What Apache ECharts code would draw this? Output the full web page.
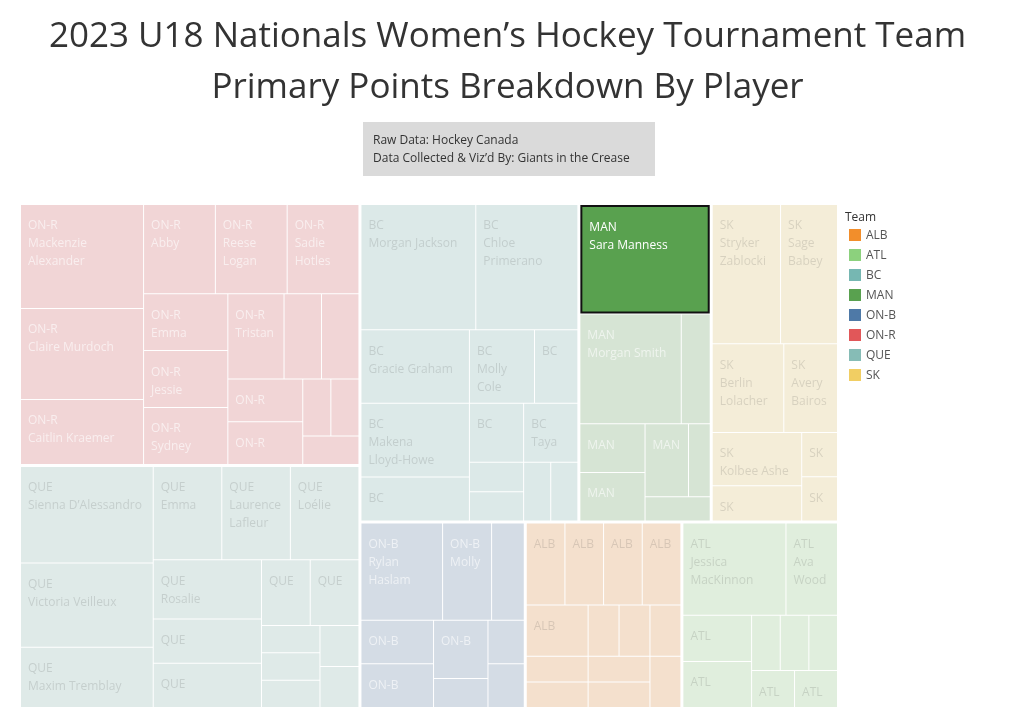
<!DOCTYPE html>
<html>
<head>
<meta charset="utf-8">
<script src="https://cdn.jsdelivr.net/npm/echarts@6/dist/echarts.min.js"></script>
<style>
  html, body { margin: 0; padding: 0; background: #fff; }
  #chart { width: 1015px; height: 715px; }
</style>
</head>
<body>
<div id="chart"></div>
<script>
// ---------------- DATA ----------------
const teams = ['ON-R', 'QUE', 'BC', 'MAN', 'SK', 'ON-B', 'ALB', 'ATL'];
const legendTeams = ['ALB', 'ATL', 'BC', 'MAN', 'ON-B', 'ON-R', 'QUE', 'SK'];

// player names ('' = name hidden, only team shown; null = no label shown)
const onrPlayers = ['Mackenzie Alexander', 'Claire Murdoch', 'Caitlin Kraemer', 'Abby', 'Reese Logan', 'Sadie Hotles', 'Emma', 'Jessie', 'Sydney', 'Tristan', null, null, '', '', null, null, null];
const onrPoints  = [8, 7, 5, 4, 4, 4, 3, 3, 3, 3, 2, 2, 2, 2, 1, 1, 1];

const quePlayers = ['Sienna D\u2019Alessandro', 'Victoria Veilleux', 'Maxim Tremblay', 'Emma', 'Laurence Lafleur', 'Lo\u00e9lie', 'Rosalie', '', '', '', '', null, null, null, null, null];
const quePoints  = [8, 7, 5, 4, 4, 4, 4, 3, 3, 2, 2, 1, 1, 1, 1, 1];

const bcPlayers = ['Morgan Jackson', 'Chloe Primerano', 'Gracie Graham', 'Makena Lloyd-Howe', '', 'Molly Cole', '', '', 'Taya', null, null, null, null];
const bcPoints  = [9, 8, 5, 5, 3, 3, 2, 2, 2, 1, 1, 1, 1];

const manPlayers = ['Sara Manness', 'Morgan Smith', null, '', '', '', null, null];
const manPoints  = [9, 7, 2, 2, 2, 2, 1, 1];

const skPlayers = ['Stryker Zablocki', 'Sage Babey', 'Berlin Lolacher', 'Avery Bairos', 'Kolbee Ashe', '', '', ''];
const skPoints  = [6, 5, 4, 3, 3, 2, 1, 1];

const onbPlayers = ['Rylan Haslam', 'Molly', null, '', '', '', null, null, null];
const onbPoints  = [5, 3, 2, 2, 2, 2, 1, 1, 1];

const albPlayers = ['', '', '', '', '', null, null, null, null, null, null, null, null];
const albPoints  = [2, 2, 2, 2, 2, 1, 1, 1, 1, 1, 1, 1, 1];

const atlPlayers = ['Jessica MacKinnon', 'Ava Wood', '', '', null, null, null, '', ''];
const atlPoints  = [6, 3, 2, 2, 1, 1, 1, 1, 1];

const highlightedPlayer = 'Sara Manness';

const teamPlayers = { 'ON-R': onrPlayers, 'QUE': quePlayers, 'BC': bcPlayers, 'MAN': manPlayers, 'SK': skPlayers, 'ON-B': onbPlayers, 'ALB': albPlayers, 'ATL': atlPlayers };
const teamPoints  = { 'ON-R': onrPoints, 'QUE': quePoints, 'BC': bcPoints, 'MAN': manPoints, 'SK': skPoints, 'ON-B': onbPoints, 'ALB': albPoints, 'ATL': atlPoints };

// ---------------- STYLE ----------------
const teamColors = {
  'ALB': '#f28e2b', 'ATL': '#8cd17d', 'BC': '#76b7b2', 'MAN': '#59a14f',
  'ON-B': '#4e79a7', 'ON-R': '#e15759', 'QUE': '#86bcb6', 'SK': '#f1ce63'
};
const whiteText = { 'ON-R': true, 'ON-B': true, 'MAN': true };
const FONT = '"Open Sans", "Noto Sans", sans-serif';
const FADE_BG = [245, 245, 245];

function hexToRgb(h) { h = h.replace('#', ''); return [0, 2, 4].map(i => parseInt(h.substr(i, 2), 16)); }
function fade(hex, a, bg) {
  const c = hexToRgb(hex);
  return 'rgb(' + c.map((v, i) => Math.round(v * a + bg[i] * (1 - a))).join(',') + ')';
}

const treeData = teams.map(team => {
  const names = teamPlayers[team];
  const pts = teamPoints[team];
  const children = pts.map((v, i) => {
    const nm = names[i];
    const isHi = nm === highlightedPlayer;
    const fill = isHi ? teamColors[team] : fade(teamColors[team], 0.2, FADE_BG);
    const txt = isHi ? '#ffffff' : (whiteText[team] ? 'rgba(255,255,255,0.6)' : 'rgba(40,40,40,0.14)');
    const item = {
      name: nm ? nm : (team + ' player ' + (i + 1)),
      value: v,
      team: team,
      player: nm,
      itemStyle: { color: fill },
      label: { show: nm !== null, color: txt }
    };
    if (isHi) {
      item.itemStyle.borderColor = '#111';
      item.itemStyle.borderWidth = 2;
    }
    return item;
  });
  return { name: team, children: children, itemStyle: { color: fade(teamColors[team], 0.2, FADE_BG) } };
});

// ---------------- CHART ----------------
const chart = echarts.init(document.getElementById('chart'), null, { renderer: 'canvas' });

const graphics = [
  { type: 'rect', left: 363, top: 122, shape: { width: 292, height: 54 }, style: { fill: '#dadada' }, silent: true },
  { type: 'text', left: 373, top: 135, style: { text: 'Raw Data: Hockey Canada', fill: '#333', font: '12px ' + FONT } },
  { type: 'text', left: 373, top: 153, style: { text: 'Data Collected & Viz\u2019d By: Giants in the Crease', fill: '#333', font: '12px ' + FONT } },
  { type: 'text', left: 845, top: 212, style: { text: 'Team', fill: '#333', font: '12px ' + FONT } }
];
legendTeams.forEach((t, i) => {
  graphics.push({ type: 'rect', left: 849, top: 229 + i * 20, shape: { width: 12, height: 12 }, style: { fill: teamColors[t] } });
  graphics.push({ type: 'text', left: 866, top: 230 + i * 20, style: { text: t, fill: '#555', font: '12px ' + FONT } });
});

chart.setOption({
  animation: false,
  title: {
    text: '2023 U18 Nationals Women\u2019s Hockey Tournament Team\nPrimary Points Breakdown By Player',
    left: 'center',
    top: 7,
    textStyle: { fontFamily: FONT, fontSize: 35, fontWeight: 'normal', color: '#333', lineHeight: 51 }
  },
  graphic: graphics,
  series: [{
    type: 'treemap',
    left: 21, top: 205, width: 816, height: 502,
    roam: false,
    nodeClick: false,
    sort: false,
    breadcrumb: { show: false },
    squareRatio: 0.5 * (1 + Math.sqrt(5)),
    visibleMin: 0,
    upperLabel: { show: false },
    label: {
      show: true,
      position: 'insideTopLeft',
      distance: 0,
      padding: [12, 0, 0, 7],
      fontFamily: FONT,
      fontSize: 12,
      lineHeight: 18,
      overflow: 'break',
      formatter: p => {
        const d = p.data;
        return d.player ? d.team + '\n' + d.player : d.team;
      }
    },
    levels: [
      { itemStyle: { borderWidth: 0, gapWidth: 3, borderColor: '#ffffff' } },
      { itemStyle: { borderWidth: 0, gapWidth: 1, borderColor: '#ffffff' } },
      { itemStyle: { borderWidth: 0 } }
    ],
    data: treeData
  }]
});
</script>
</body>
</html>
